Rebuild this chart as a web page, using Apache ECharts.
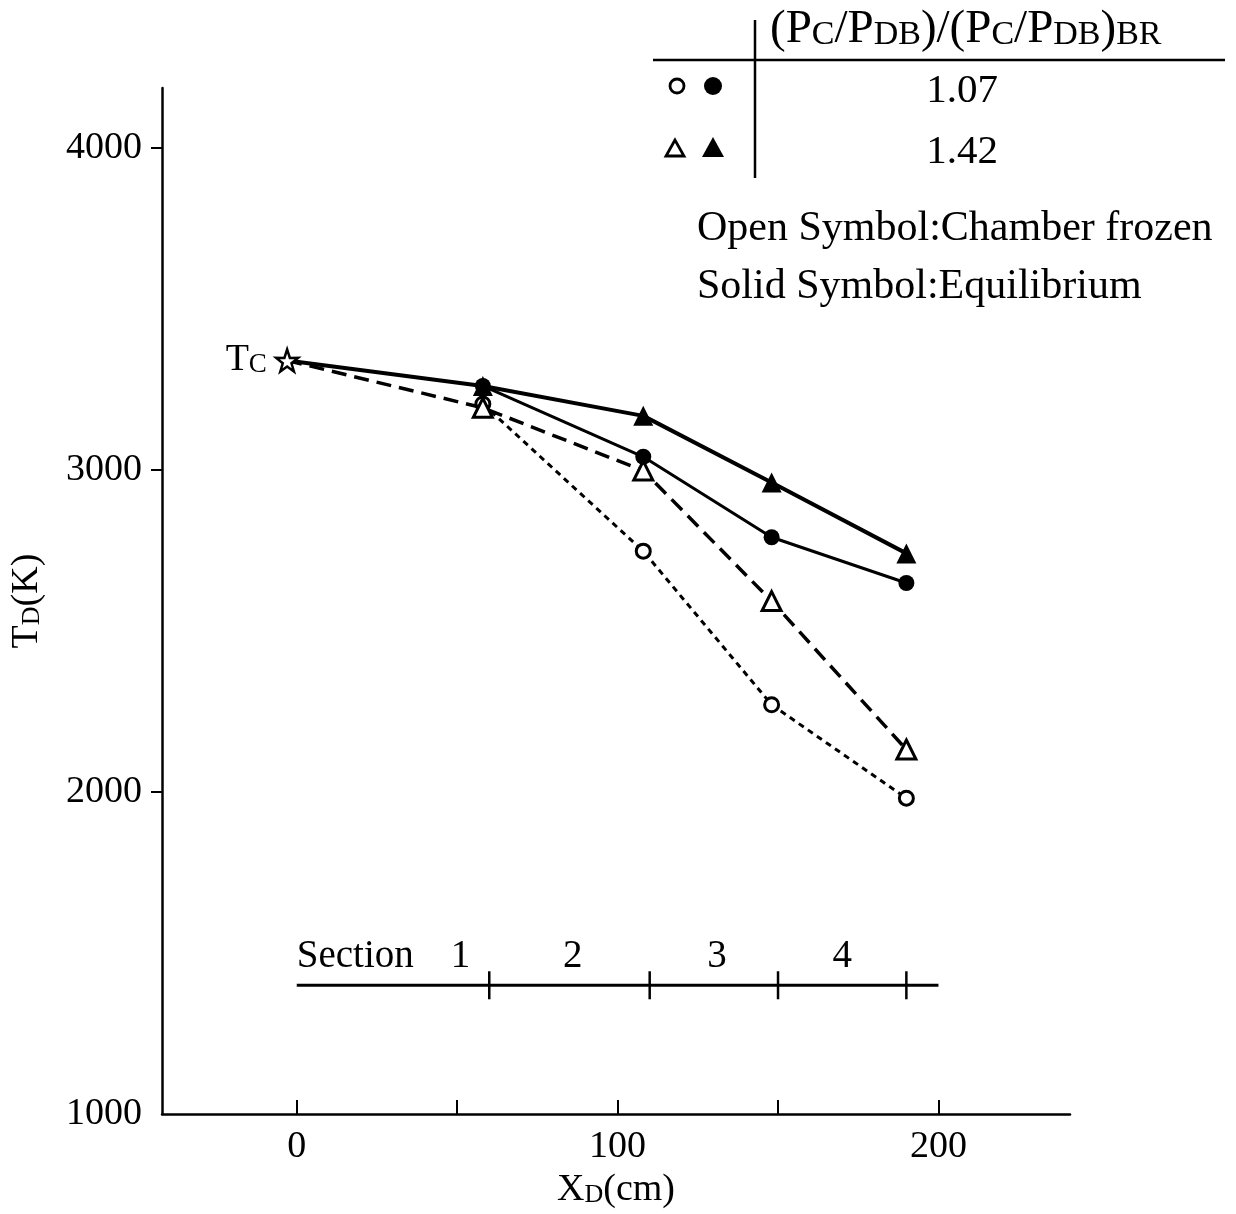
<!DOCTYPE html>
<html>
<head>
<meta charset="utf-8">
<script src="https://cdn.jsdelivr.net/npm/echarts@6/dist/echarts.min.js"></script>
<style>
html,body{margin:0;padding:0;background:#fff;}
#chart{width:1236px;height:1214px;}
</style>
</head>
<body>
<div id="chart"></div>
<script>
// ---- data ----
const xTickValues = [0, 50, 100, 150, 200];
const xLabelValues = [0, 100, 200];
const yTickValues = [2000, 3000, 4000];
const yLabelValues = [1000, 2000, 3000, 4000];

const tcPoint = [-3, 3340];
const solidTriangle = [[58, 3261], [108, 3168], [148, 2961], [190, 2741]];   // equilibrium, 1.42
const solidCircle = [[58, 3261], [108, 3041], [148, 2791], [190, 2649]];     // equilibrium, 1.07
const openTriangle = [[58, 3193], [108, 2998], [148, 2593], [190, 2132]];    // frozen, 1.42
const openCircle = [[58, 3205], [108, 2748], [148, 2271], [190, 1981]];      // frozen, 1.07

const sectionLineY = 1400;
const sectionLineX = [0, 200];
const sectionBounds = [60, 110, 150, 190];
const sectionLabels = ['1', '2', '3', '4'];
const sectionLabelX = [51, 86, 131, 170];
const sectionLabelY = 1488;

const legendRows = ['1.07', '1.42'];

const FONT = 'Liberation Serif';
const starPath = 'path://M50,0 L61.8,35.1 L97.6,34.5 L68.8,56.9 L79.4,90.5 L50,70 L20.6,90.5 L31.2,56.9 L2.4,34.5 L38.2,35.1 Z';

const chart = echarts.init(document.getElementById('chart'), null, {renderer: 'canvas'});

const withStart = (start, arr) => [{value: start, symbol: 'none'}].concat(arr.map(p => ({value: p})));

const option = {
  backgroundColor: '#fff',
  animation: false,
  grid: {left: 162, top: 88, width: 908, height: 1030, containLabel: false},
  xAxis: {
    type: 'value', min: -42, max: 241,
    axisLine: {show: true, onZero: false, lineStyle: {color: '#000', width: 2.5}},
    axisTick: {show: true, inside: true, length: 14, customValues: xTickValues, lineStyle: {color: '#000', width: 2}},
    axisLabel: {show: true, customValues: xLabelValues, margin: 14, color: '#000', fontFamily: FONT, fontSize: 38, formatter: v => String(v)},
    splitLine: {show: false},
    name: '{a|X}{b|D}{a|(cm)}',
    nameLocation: 'middle', nameGap: 56,
    nameTextStyle: {rich: {
      a: {fontFamily: FONT, fontSize: 38, color: '#000', verticalAlign: 'bottom'},
      b: {fontFamily: FONT, fontSize: 26, color: '#000', verticalAlign: 'bottom', padding: [0, 0, 1, 0]}
    }}
  },
  yAxis: {
    type: 'value', min: 1000, max: 4186,
    axisLine: {show: true, onZero: false, lineStyle: {color: '#000', width: 2.5}},
    axisTick: {show: true, inside: false, length: 11, customValues: yTickValues, lineStyle: {color: '#000', width: 2}},
    axisLabel: {show: true, customValues: yLabelValues, margin: 20, color: '#000', fontFamily: FONT, fontSize: 38, formatter: v => String(v)},
    splitLine: {show: false},
    name: '{a|T}{b|D}{a|(K)}',
    nameLocation: 'middle', nameGap: 116, nameRotate: 90,
    nameTextStyle: {rich: {
      a: {fontFamily: FONT, fontSize: 38, color: '#000', verticalAlign: 'bottom'},
      b: {fontFamily: FONT, fontSize: 26, color: '#000', verticalAlign: 'bottom', padding: [0, 0, 1, 0]}
    }}
  },
  series: [
    {
      name: 'frozen 1.07', type: 'line', z: 2,
      data: openCircle,
      symbol: 'circle', symbolSize: 14,
      itemStyle: {color: '#fff', borderColor: '#000', borderWidth: 3},
      lineStyle: {color: '#000', width: 3, type: [6, 5]}
    },
    {
      name: 'frozen 1.42', type: 'line', z: 3,
      data: withStart(tcPoint, openTriangle),
      symbol: 'triangle', symbolSize: 19,
      itemStyle: {color: '#fff', borderColor: '#000', borderWidth: 3},
      lineStyle: {color: '#000', width: 3.5, type: [15, 8]}
    },
    {
      name: 'equilibrium 1.07', type: 'line', z: 4,
      data: solidCircle,
      symbol: 'circle', symbolSize: 16,
      itemStyle: {color: '#000', borderColor: '#000', borderWidth: 0},
      lineStyle: {color: '#000', width: 3}
    },
    {
      name: 'equilibrium 1.42', type: 'line', z: 5,
      data: withStart(tcPoint, solidTriangle),
      symbol: 'triangle', symbolSize: 20,
      itemStyle: {color: '#000', borderColor: '#000', borderWidth: 0},
      lineStyle: {color: '#000', width: 4}
    },
    {
      name: 'Tc', type: 'scatter', z: 6,
      data: [tcPoint],
      symbol: starPath, symbolSize: 22,
      itemStyle: {color: '#fff', borderColor: '#000', borderWidth: 2.5, opacity: 1},
      label: {
        show: true, position: 'left', distance: 8, color: '#000',
        formatter: '{a|T}{b|C}',
        rich: {
          a: {fontFamily: FONT, fontSize: 38, color: '#000', verticalAlign: 'bottom'},
          b: {fontFamily: FONT, fontSize: 27, color: '#000', verticalAlign: 'bottom', padding: [0, 0, 1, 0]}
        }
      }
    },
    {
      name: 'section line', type: 'line', z: 2,
      data: sectionLineX.map(x => [x, sectionLineY]),
      symbol: 'none',
      lineStyle: {color: '#000', width: 3}
    },
    {
      name: 'section bounds', type: 'scatter', z: 2,
      data: sectionBounds.map(x => [x, sectionLineY]),
      symbol: 'rect', symbolSize: [2.5, 28],
      itemStyle: {color: '#000', opacity: 1}
    },
    {
      name: 'section labels', type: 'scatter', z: 2,
      symbolSize: 1, itemStyle: {color: 'rgba(0,0,0,0)', opacity: 1},
      data: [{value: [0, sectionLabelY], name: 'Section', label: {align: 'left'}}]
        .concat(sectionLabels.map((t, i) => ({value: [sectionLabelX[i], sectionLabelY], name: t}))),
      label: {
        show: true, position: 'top', distance: 0, verticalAlign: 'middle', formatter: p => p.name,
        color: '#000', fontFamily: FONT, fontSize: 39, textBorderWidth: 0
      }
    }
  ],
  graphic: [
    {type: 'line', shape: {x1: 755, y1: 20, x2: 755, y2: 178}, style: {stroke: '#000', lineWidth: 2.5}},
    {type: 'line', shape: {x1: 653, y1: 60, x2: 1225, y2: 60}, style: {stroke: '#000', lineWidth: 2.5}},
    {type: 'text', x: 770, y: 30, style: {
      text: '{a|(P}{s|C}{a|/P}{s|DB}{a|)/(P}{s|C}{a|/P}{s|DB}{a|)}{s|BR}',
      verticalAlign: 'middle', align: 'left',
      rich: {
        a: {fontFamily: FONT, fontSize: 47, fill: '#000', verticalAlign: 'bottom'},
        s: {fontFamily: FONT, fontSize: 34, fill: '#000', verticalAlign: 'bottom', padding: [0, 0, 1, 0]}
      }
    }},
    {type: 'circle', shape: {cx: 677, cy: 86, r: 7}, style: {fill: '#fff', stroke: '#000', lineWidth: 2.8}},
    {type: 'circle', shape: {cx: 713, cy: 86, r: 9}, style: {fill: '#000'}},
    {type: 'polygon', shape: {points: [[675, 140], [666, 156], [684, 156]]}, style: {fill: '#fff', stroke: '#000', lineWidth: 2.8}},
    {type: 'polygon', shape: {points: [[713, 137], [702, 157], [724, 157]]}, style: {fill: '#000'}},
    {type: 'text', x: 962, y: 91, style: {text: legendRows[0], align: 'center', verticalAlign: 'middle', fontFamily: FONT, fontSize: 41, fill: '#000'}},
    {type: 'text', x: 962, y: 152, style: {text: legendRows[1], align: 'center', verticalAlign: 'middle', fontFamily: FONT, fontSize: 41, fill: '#000'}},
    {type: 'text', x: 697, y: 229, style: {text: 'Open Symbol:Chamber frozen', align: 'left', verticalAlign: 'middle', fontFamily: FONT, fontSize: 42, fill: '#000'}},
    {type: 'text', x: 697, y: 287, style: {text: 'Solid Symbol:Equilibrium', align: 'left', verticalAlign: 'middle', fontFamily: FONT, fontSize: 42, fill: '#000'}}
  ]
};
chart.setOption(option);
</script>
</body>
</html>
